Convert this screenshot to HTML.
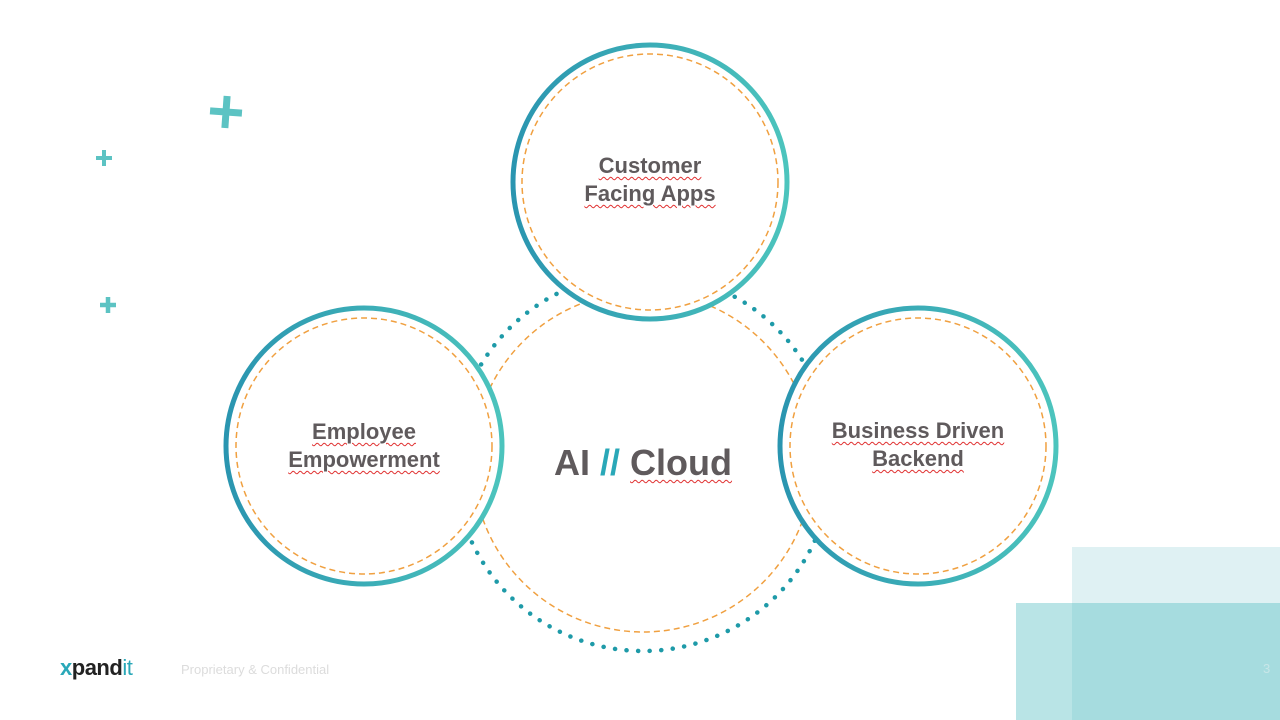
<!DOCTYPE html>
<html><head><style>
body{margin:0;width:1280px;height:720px;background:#fff;overflow:hidden;position:relative;font-family:"Liberation Sans",sans-serif}
.t{position:absolute;font-weight:bold;color:#5f5a5c;text-align:center;font-size:22px;line-height:28px;text-decoration:underline wavy #e03030 1px;text-underline-offset:3px}
</style></head><body>
<div style="position:absolute;left:1072px;top:547px;width:208px;height:173px;background:#dff1f3"></div>
<div style="position:absolute;left:1016px;top:603px;width:264px;height:117px;background:#b9e4e6"></div>
<div style="position:absolute;left:1072px;top:603px;width:208px;height:117px;background:#a6dcdf"></div>
<svg width="1280" height="720" style="position:absolute;left:0;top:0">
<defs><linearGradient id="g" x1="0" y1="0" x2="1" y2="0"><stop offset="0" stop-color="#2a95b0"/><stop offset="1" stop-color="#4cc4bd"/></linearGradient></defs>
<circle cx="643" cy="462" r="189" fill="none" stroke="#1e9aa8" stroke-width="4.5" stroke-dasharray="0.1 11.5" stroke-linecap="round"/>
<circle cx="643" cy="462" r="170" fill="none" stroke="#f0a040" stroke-width="1.5" stroke-dasharray="6 4"/>
<g fill="#fff" stroke="url(#g)" stroke-width="5">
<circle cx="650" cy="182" r="137"/><circle cx="364" cy="446" r="138"/><circle cx="918" cy="446" r="138"/></g>
<g fill="none" stroke="#f0a040" stroke-width="1.5" stroke-dasharray="6 4">
<circle cx="650" cy="182" r="128"/><circle cx="364" cy="446" r="128"/><circle cx="918" cy="446" r="128"/></g>
<g stroke="#5cc3c3" stroke-linecap="butt">
<path d="M226 96V128M210 112H242" stroke-width="7" transform="rotate(4 226 112)"/>
<path d="M104 150V166M96 158H112" stroke-width="4"/>
<path d="M108 297V313M100 305H116" stroke-width="4.5"/>
</g>
</svg>
<div class="t" style="left:550px;top:152px;width:200px">Customer<br>Facing Apps</div>
<div class="t" style="left:264px;top:418px;width:200px">Employee<br>Empowerment</div>
<div class="t" style="left:818px;top:417px;width:200px">Business Driven<br>Backend</div>
<div class="t" style="left:543px;top:443px;width:200px;font-size:36px;line-height:40px;text-decoration:none">AI <span style="color:#2aa8b8">//</span> <span style="text-decoration:underline wavy #e03030 1px;text-underline-offset:4px">Cloud</span></div>
<div style="position:absolute;left:60px;top:655px;font-size:22px;font-weight:bold;color:#222;letter-spacing:-0.5px"><span style="color:#2aa8b8">x</span>pand<span style="color:#2aa8b8;font-weight:normal">it</span></div>
<div style="position:absolute;left:181px;top:662px;font-size:13px;color:#dcdcdc">Proprietary &amp; Confidential</div>
<div style="position:absolute;left:1263px;top:661px;font-size:13px;color:#c8e6e8">3</div>
</body></html>
